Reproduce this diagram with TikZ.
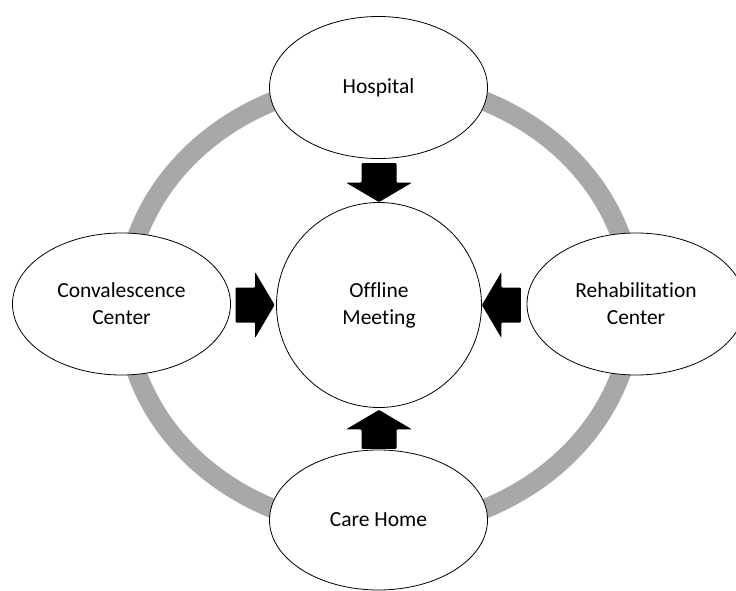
\documentclass[tikz,border=0pt]{standalone}
\usepackage{fontspec}
\setmainfont{Carlito}[Ligatures={NoCommon}]
\usetikzlibrary{shapes.geometric}
\definecolor{ringgray}{RGB}{168,168,168}
\tikzset{
  bubble/.style={ellipse, draw=black, line width=0.8pt, fill=white, inner sep=0pt,
    minimum width=218pt, minimum height=142pt, align=center,
    font=\fontsize{21.5}{27}\selectfont},
  hub/.style={circle, draw=black, line width=0.8pt, fill=white, inner sep=0pt,
    minimum size=205pt, align=center, font=\fontsize{21.5}{27}\selectfont},
  blockarrow/.pic={
    \fill[black, rounded corners=1pt] (0,0) -- (-19.5,33) -- (-19.5,17.5) -- (-39,17.5)
      -- (-39,-17.5) -- (-19.5,-17.5) -- (-19.5,-33) -- cycle;
  }
}
\begin{document}
\begin{tikzpicture}[x=1pt,y=1pt]
\useasboundingbox (0,0) rectangle (736,590);
\coordinate (ringc) at (379,285);
\draw[ringgray, line width=19.5pt] (ringc) ellipse [x radius=254, y radius=224];
\node[hub] (hub) at (379,285) {Offline\\Meeting};
\node[bubble] (hosp) at (378.5,502.5) {Hospital};
\node[bubble] (conv) at (121.5,286) {Convalescence\\Center};
\node[bubble] (rehab) at (636,286) {Rehabilitation\\Center};
\node[bubble, minimum height=140pt] (care) at (378.5,70) {Care Home};
\pic[rotate=-90] at (hub.north) {blockarrow};
\pic at ([xshift=-1.5pt]hub.west) {blockarrow};
\pic[rotate=180] at (hub.east) {blockarrow};
\pic[rotate=90] at ([yshift=-2pt]hub.south) {blockarrow};
\end{tikzpicture}
\end{document}
